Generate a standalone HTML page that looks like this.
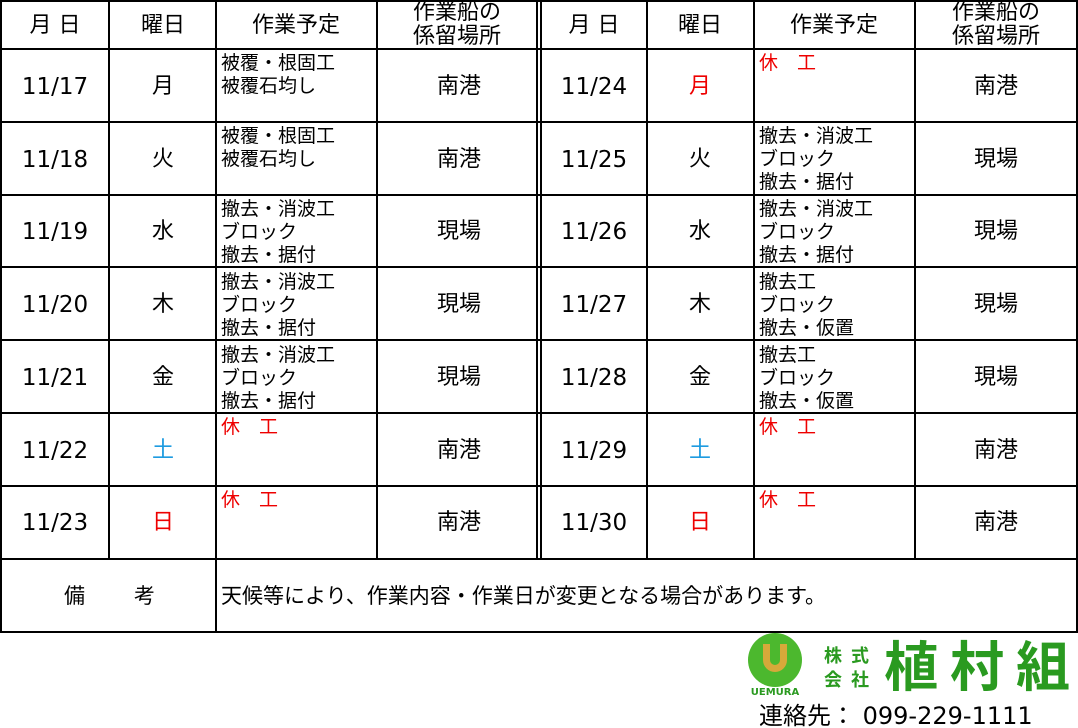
<!DOCTYPE html>
<html><head><meta charset="utf-8"><style>
body{margin:0;background:#fff;}
svg{display:block;font-family:"DejaVu Sans","Noto Sans CJK JP",sans-serif;}
</style></head><body>
<svg width="1078" height="728" xmlns="http://www.w3.org/2000/svg">
<g stroke="#000" stroke-width="2" fill="none">
<rect x="1" y="1" width="1076" height="631"/>
<line x1="1" y1="49" x2="1077" y2="49"/>
<line x1="1" y1="122" x2="1077" y2="122"/>
<line x1="1" y1="195" x2="1077" y2="195"/>
<line x1="1" y1="267" x2="1077" y2="267"/>
<line x1="1" y1="340" x2="1077" y2="340"/>
<line x1="1" y1="413" x2="1077" y2="413"/>
<line x1="1" y1="486" x2="1077" y2="486"/>
<line x1="1" y1="559" x2="1077" y2="559"/>
<line x1="109" y1="1" x2="109" y2="559"/>
<line x1="216" y1="1" x2="216" y2="632"/>
<line x1="377" y1="1" x2="377" y2="559"/>
<line x1="537" y1="1" x2="537" y2="559"/>
<line x1="541" y1="1" x2="541" y2="559"/>
<line x1="647" y1="1" x2="647" y2="559"/>
<line x1="754" y1="1" x2="754" y2="559"/>
<line x1="915" y1="1" x2="915" y2="559"/>
</g>
<g font-size="22" text-anchor="middle" fill="#000">
<text x="55" y="32">月 日</text><text x="163" y="32">曜日</text><text x="296" y="32">作業予定</text>
<text x="457" y="19">作業船の</text><text x="457" y="43">係留場所</text>
<text x="594" y="32">月 日</text><text x="700" y="32">曜日</text><text x="834" y="32">作業予定</text>
<text x="996" y="19">作業船の</text><text x="996" y="43">係留場所</text>
</g>
<g font-size="23" text-anchor="middle" fill="#000">
<text x="55" y="94">11/17</text><text x="55" y="167">11/18</text><text x="55" y="239">11/19</text><text x="55" y="312">11/20</text><text x="55" y="385">11/21</text><text x="55" y="458">11/22</text><text x="55" y="530">11/23</text>
<text x="594" y="94">11/24</text><text x="594" y="167">11/25</text><text x="594" y="239">11/26</text><text x="594" y="312">11/27</text><text x="594" y="385">11/28</text><text x="594" y="458">11/29</text><text x="594" y="530">11/30</text>
</g>
<g font-size="22" text-anchor="middle" fill="#000">
<text x="163" y="93">月</text><text x="163" y="166">火</text><text x="163" y="238">水</text><text x="163" y="311">木</text><text x="163" y="384">金</text><text x="163" y="457" fill="#1e9be0">土</text><text x="163" y="529" fill="#e00">日</text>
<text x="700" y="93" fill="#e00">月</text><text x="700" y="166">火</text><text x="700" y="238">水</text><text x="700" y="311">木</text><text x="700" y="384">金</text><text x="700" y="457" fill="#1e9be0">土</text><text x="700" y="529" fill="#e00">日</text>
<text x="459" y="93">南港</text><text x="459" y="166">南港</text><text x="459" y="238">現場</text><text x="459" y="311">現場</text><text x="459" y="384">現場</text><text x="459" y="457">南港</text><text x="459" y="529">南港</text>
<text x="996" y="93">南港</text><text x="996" y="166">現場</text><text x="996" y="238">現場</text><text x="996" y="311">現場</text><text x="996" y="384">現場</text><text x="996" y="457">南港</text><text x="996" y="529">南港</text>
</g>
<g font-size="19" fill="#000">
<text x="221" y="69">被覆・根固工</text><text x="221" y="92">被覆石均し</text>
<text x="221" y="142">被覆・根固工</text><text x="221" y="165">被覆石均し</text>
<text x="221" y="215">撤去・消波工</text><text x="221" y="238">ブロック</text><text x="221" y="261">撤去・据付</text>
<text x="221" y="288">撤去・消波工</text><text x="221" y="311">ブロック</text><text x="221" y="334">撤去・据付</text>
<text x="221" y="361">撤去・消波工</text><text x="221" y="384">ブロック</text><text x="221" y="407">撤去・据付</text>
<text x="221" y="433" fill="#e00">休　工</text>
<text x="221" y="506" fill="#e00">休　工</text>
<text x="759" y="69" fill="#e00">休　工</text>
<text x="759" y="142">撤去・消波工</text><text x="759" y="165">ブロック</text><text x="759" y="188">撤去・据付</text>
<text x="759" y="215">撤去・消波工</text><text x="759" y="238">ブロック</text><text x="759" y="261">撤去・据付</text>
<text x="759" y="288">撤去工</text><text x="759" y="311">ブロック</text><text x="759" y="334">撤去・仮置</text>
<text x="759" y="361">撤去工</text><text x="759" y="384">ブロック</text><text x="759" y="407">撤去・仮置</text>
<text x="759" y="433" fill="#e00">休　工</text>
<text x="759" y="506" fill="#e00">休　工</text>
</g>
<text x="64" y="603" font-size="21" fill="#000">備</text><text x="134" y="603" font-size="21" fill="#000">考</text>
<text x="221" y="603" font-size="21" fill="#000">天候等により、作業内容・作業日が変更となる場合があります。</text>
<circle cx="775" cy="660" r="27" fill="#4cb82e"/>
<path d="M763 644 v16 a12 12 0 0 0 24 0 v-16 h-7 v16 a5 5 0 0 1 -10 0 v-16z" fill="#d6a93a"/>
<text x="775" y="695" font-size="10" font-weight="bold" text-anchor="middle" fill="#2a9a20">UEMURA</text>
<g font-size="18" font-weight="bold" fill="#2a9a20">
<text x="824" y="662">株</text><text x="851" y="662">式</text>
<text x="824" y="686">会</text><text x="851" y="686">社</text>
</g>
<text x="884" y="686" font-size="54" font-weight="bold" fill="#2a9a20" letter-spacing="12">植村組</text>
<text x="759" y="724" font-size="24" fill="#000">連絡先：  099-229-1111</text>
</svg>
</body></html>
